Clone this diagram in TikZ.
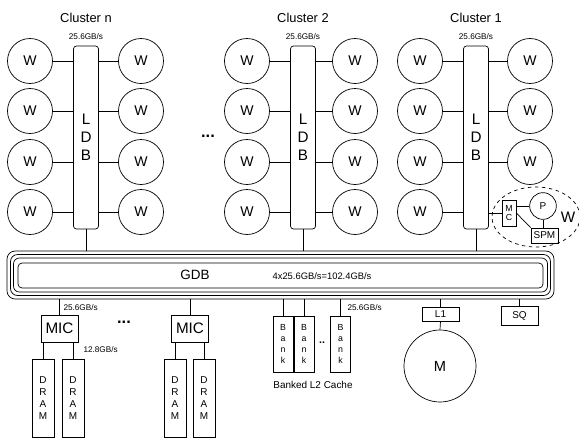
\documentclass[tikz,border=0pt]{standalone}
\usepackage{fontspec}
\setmainfont{Liberation Sans}
\usetikzlibrary{shapes.geometric}

\tikzset{
  every path/.style={line width=0.6pt},
  wnode/.style={draw, circle, minimum size=1.35cm, inner sep=0pt, font=\fontsize{12}{14}\selectfont},
  ldbbox/.style={draw, rounded corners=2.5pt, minimum width=0.75cm, minimum height=5.49cm, inner sep=0pt, align=center, font=\fontsize{13}{15.5}\selectfont},
  gdbbox/.style={draw, inner sep=0pt},
  micbox/.style={draw, minimum width=1.11cm, minimum height=0.81cm, inner sep=0pt, font=\fontsize{13}{15}\selectfont},
  dramcol/.style={draw, minimum width=0.66cm, minimum height=2.34cm, inner sep=0pt, align=center, font=\fontsize{8.5}{10.2}\selectfont},
  bankcol/.style={draw, minimum width=0.6cm, minimum height=1.68cm, inner sep=0pt, align=center, font=\fontsize{7.5}{9.4}\selectfont},
  smallbox/.style={draw, minimum width=1.11cm, inner sep=0pt, font=\fontsize{8.5}{10}\selectfont},
  titletext/.style={font=\fontsize{11}{13}\selectfont},
  ratetext/.style={font=\fontsize{7}{8}\selectfont, inner sep=1pt},
  bigtext/.style={font=\fontsize{11.5}{13}\selectfont},
  dotstext/.style={font=\fontsize{14}{14}\selectfont\bfseries},
}

\begin{document}
\begin{tikzpicture}[x=0.03cm, y=-0.03cm]
\useasboundingbox (0,0) rectangle (579,440);

% global data bus
\node[gdbbox, rounded corners=7pt, minimum width=16.41cm, minimum height=1.44cm] (gdb0) at (280.5,275) {};
\node[gdbbox, rounded corners=6pt, minimum width=16.2cm, minimum height=1.23cm] (gdb1) at (280.5,275) {};
\node[gdbbox, rounded corners=5pt, minimum width=16.02cm, minimum height=1.02cm] (gdb2) at (280.5,275) {};
\node[gdbbox, rounded corners=3.5pt, minimum width=15.75cm, minimum height=0.75cm] (gdb3) at (280.5,275.5) {};
\node[bigtext] (gdb-label) at (195,275) {GDB};
\node[ratetext, font=\fontsize{8}{9}\selectfont] (gdb-rate) at (322,276) {4x25.6GB/s=102.4GB/s};

% clusters
\foreach \c/\cx/\lx/\rx/\title/\nr in {n/86/30/141/n/4, two/303/247/355/2/4, one/476/420/530/1/3} {
  \node[titletext] (title-\c) at (\cx,18) {Cluster \title};
  \node[ratetext] (rate-\c) at (\cx,37) {25.6GB/s};
  \node[ldbbox] (ldb-\c) at (\cx,137.5) {L\\D\\B};
  \foreach \i/\wy in {1/61,2/111,3/162,4/212} {
    \node[wnode] (wl-\c-\i) at (\lx,\wy) {W};
    \draw (wl-\c-\i) -- (wl-\c-\i -| ldb-\c.west);
    \ifnum\i>\nr\else
      \node[wnode] (wr-\c-\i) at (\rx,\wy) {W};
      \draw (wr-\c-\i) -- (wr-\c-\i -| ldb-\c.east);
    \fi
  }
  \draw (ldb-\c.south) -- (ldb-\c.south |- gdb0.north);
}
\node[dotstext] (dots-top) at (208,136) {...};

% one W in detail
\node[draw, dashed, ellipse, minimum width=2.64cm, minimum height=1.8cm] (wdetail) at (536,217) {};
\node[draw, minimum width=0.42cm, minimum height=0.78cm, inner sep=0pt, align=center, font=\fontsize{7.5}{8.5}\selectfont] (mc) at (509,213) {M\\C};
\node[draw, circle, minimum size=0.8cm, inner sep=0pt, font=\fontsize{8.5}{10}\selectfont] (p) at (543,206) {P};
\node[draw, minimum width=0.81cm, minimum height=0.45cm, inner sep=0pt, font=\fontsize{8.5}{10}\selectfont] (spm) at (544.5,235.5) {SPM};
\node[bigtext, font=\fontsize{13}{14}\selectfont] (w-label) at (568,217) {W};
\draw (ldb-one.east |- mc) -- (mc);
\draw (mc.east |- p) -- (p);
\draw (mc.east) -- (spm.north west);
\draw (p.south) -- (p.south |- spm.north);

% memory controllers
\node[micbox] (mic1) at (59.5,328.5) {MIC};
\node[micbox] (mic2) at (190,328.5) {MIC};
\node[dramcol] (dram1a) at (43,398) {D\\R\\A\\M};
\node[dramcol] (dram1b) at (73,398) {D\\R\\A\\M};
\node[dramcol] (dram2a) at (175,398) {D\\R\\A\\M};
\node[dramcol] (dram2b) at (204,398) {D\\R\\A\\M};
\draw (mic1.north) -- (mic1.north |- gdb0.south);
\draw (mic2.north) -- (mic2.north |- gdb0.south);
\foreach \d/\m in {dram1a/mic1, dram1b/mic1, dram2a/mic2, dram2b/mic2}
  \draw (\d.north) -- (\d.north |- \m.south);
\node[ratetext, anchor=west] (rate-mic) at (62,308) {25.6GB/s};
\node[ratetext, anchor=west] (rate-dram) at (82,350) {12.8GB/s};
\node[dotstext] (dots-mic) at (124,322) {...};

% banked L2 cache
\node[bankcol] (bank1) at (283,344) {B\\a\\n\\k};
\node[bankcol] (bank2) at (304,344) {B\\a\\n\\k};
\node[bankcol] (bank3) at (340.5,344) {B\\a\\n\\k};
\foreach \b in {bank1, bank2, bank3}
  \draw (\b.north) -- (\b.north |- gdb0.south);
\node[font=\fontsize{9}{9}\selectfont\bfseries] (dots-bank) at (322,343) {..};
\node[ratetext, anchor=west] (rate-bank) at (346,308) {25.6GB/s};
\node[ratetext, font=\fontsize{8.5}{10}\selectfont] (l2-label) at (313,385) {Banked L2 Cache};

% core side
\node[smallbox, minimum height=0.42cm] (l1) at (440.5,314) {L1};
\node[draw, circle, minimum size=2.16cm, inner sep=0pt, font=\fontsize{12.5}{14}\selectfont] (m) at (440,366) {M};
\node[smallbox, minimum height=0.57cm] (sq) at (519.5,315.5) {SQ};
\draw (l1.north) -- (l1.north |- gdb0.south);
\draw (l1.south) -- (m.north);
\draw (sq.north) -- (sq.north |- gdb0.south);
\end{tikzpicture}
\end{document}
